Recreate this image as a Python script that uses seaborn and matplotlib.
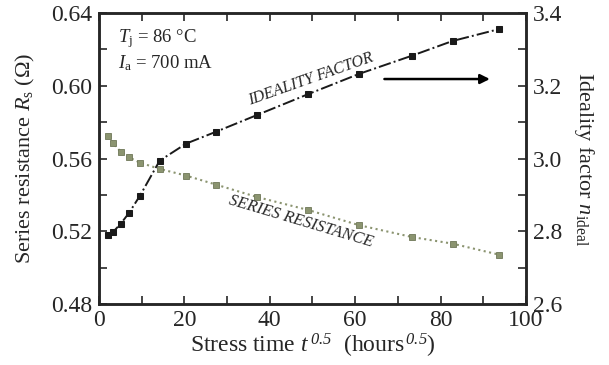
import matplotlib
matplotlib.use("Agg")
import matplotlib.pyplot as plt
import seaborn as sns
import pandas as pd

# stress time t^0.5 (hours^0.5)
t_sqrt = [2.2, 3.2, 5.1, 7.0, 9.6, 14.2, 20.4, 27.5, 36.9, 49.0, 61.0, 73.4, 82.8, 93.8]
# series resistance (ohm), left axis
r_series = [0.5724, 0.5685, 0.5637, 0.5607, 0.5577, 0.5543, 0.5506, 0.5456,
            0.5389, 0.5317, 0.5233, 0.5168, 0.5132, 0.5071]
# ideality factor, right axis
n_ideal = [2.791, 2.797, 2.821, 2.850, 2.898, 2.994, 3.041, 3.074,
           3.119, 3.177, 3.233, 3.283, 3.323, 3.356]

df = pd.DataFrame({"t": t_sqrt, "rs": r_series, "n": n_ideal})

sns.set_style("ticks")
plt.rcParams["font.family"] = ["Liberation Serif", "DejaVu Serif"]
plt.rcParams["mathtext.fontset"] = "custom"
plt.rcParams["mathtext.rm"] = "Liberation Serif"
plt.rcParams["mathtext.it"] = "Liberation Serif:italic"
plt.rcParams["mathtext.sf"] = "Liberation Serif:italic"
plt.rcParams["xtick.direction"] = "in"
plt.rcParams["ytick.direction"] = "in"

fig = plt.figure(figsize=(6.09, 3.65), dpi=100)
ax = fig.add_axes([0.1626, 0.167, 0.701, 0.7974])
ax2 = ax.twinx()

rs_col = "#8b9470"
sns.lineplot(data=df, x="t", y="rs", ax=ax, color=rs_col, linestyle=":", linewidth=1.5,
             marker="s", markersize=5, markerfacecolor=rs_col, markeredgecolor="#6f7758",
             markeredgewidth=0.6)
sns.lineplot(data=df, x="t", y="n", ax=ax2, color="#1a1a1a", linestyle="-.", linewidth=1.4,
             marker="s", markersize=4.5, markerfacecolor="#1a1a1a", markeredgecolor="#1a1a1a")

ax.set_xlim(0, 100)
ax.set_ylim(0.48, 0.64)
ax2.set_ylim(2.6, 3.4)
ax.set_xticks([0, 20, 40, 60, 80, 100])
ax.set_xticks([10, 30, 50, 70, 90], minor=True)
ax.set_yticks([0.48, 0.52, 0.56, 0.60, 0.64])
ax.set_yticklabels(["0.48", "0.52", "0.56", "0.60", "0.64"])
ax.set_yticks([0.50, 0.54, 0.58, 0.62], minor=True)
ax2.set_yticks([2.6, 2.8, 3.0, 3.2, 3.4])
ax2.set_yticklabels(["2.6", "2.8", "3.0", "3.2", "3.4"])
ax2.set_yticks([2.7, 2.9, 3.1, 3.3], minor=True)

ax.tick_params(axis="x", which="both", top=True, labelsize=17, pad=4)
ax.tick_params(axis="y", which="both", labelsize=17, pad=5)
ax.tick_params(which="both", length=6, width=1.2)
ax2.tick_params(which="both", length=6, width=1.2, labelsize=17, pad=5)
for a in (ax, ax2):
    for s in a.spines.values():
        s.set_linewidth(1.8)
        s.set_visible(True)

ax.set_xlabel(r"Stress time $t^{\,\mathsf{0.5}}$  (hours$^{\,\mathsf{0.5}}$)", fontsize=17, labelpad=1)
ax.set_ylabel(r"Series resistance $R_{\mathrm{s}}$ ($\Omega$)", fontsize=16, labelpad=10)
ax2.set_ylabel(r"Ideality factor $n_{\mathrm{ideal}}$", fontsize=16, rotation=270, labelpad=24)

ax.text(4.5, 0.626, r"$T_{\mathrm{j}}$ = 86 °C", fontsize=13.5, va="center")
ax.text(4.5, 0.6125, r"$I_{\mathrm{a}}$ = 700 mA", fontsize=13.5, va="center")

ax.text(49.5, 0.6034, "IDEALITY FACTOR", fontsize=11.6, style="italic", rotation=19.5,
        ha="center", va="center")
ax.text(47.3, 0.5256, "SERIES RESISTANCE", fontsize=12, style="italic", rotation=-16.6,
        ha="center", va="center")
ax.annotate("", xy=(92.2, 0.6037), xytext=(66.2, 0.6037),
            arrowprops=dict(arrowstyle="-|>", color="black", lw=1.8, mutation_scale=14))

fig.savefig("out.png", dpi=100)
